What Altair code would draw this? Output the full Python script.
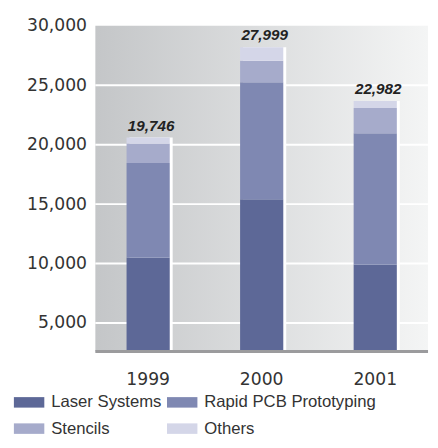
import altair as alt
import pandas as pd

years = ["1999", "2000", "2001"]
series = ["Laser Systems", "Rapid PCB Prototyping", "Stencils", "Others"]
laser = [10500, 15400, 9900]
rapid = [7950, 9850, 11050]
stencils = [1650, 1800, 2130]
others = [500, 1150, 600]
totals = [19746, 27999, 22982]
grid_values = [5000, 10000, 15000, 20000, 25000]
y_ticks = [5000, 10000, 15000, 20000, 25000, 30000]
colors = ["#5d6897", "#7f88b2", "#a6abcb", "#d4d6e8"]

rows = []
for i, y in enumerate(years):
    for j, (s, vals) in enumerate(zip(series, [laser, rapid, stencils, others])):
        rows.append({"year": y, "series": s, "value": vals[i], "idx": j})
df = pd.DataFrame(rows)

tops = pd.DataFrame({
    "year": years,
    "top": [laser[i] + rapid[i] + stencils[i] + others[i] for i in range(3)],
    "label": totals,
})
grid_df = pd.DataFrame({"v": grid_values})

yscale = alt.Scale(domain=[2600, 30000], nice=False, zero=False)
xscale = alt.Scale(paddingInner=0.61, paddingOuter=0.27, align=0.5)

y_axis = alt.Axis(title=None, values=y_ticks, format=",d", ticks=False, domain=False,
                  grid=False, labelPadding=9, labelFont="DejaVu Sans",
                  labelFontSize=17.5, labelColor="#333333")

x_enc = alt.X("year:N", scale=xscale, sort=years,
              axis=alt.Axis(title=None, labelAngle=0, ticks=False, domain=False,
                            labelPadding=20, labelFont="DejaVu Sans", labelFontSize=17.5,
                            labelColor="#333333", grid=False))

bg = alt.Chart(pd.DataFrame({"a": [0]})).mark_rect(
    color=alt.Gradient(gradient="linear",
                       stops=[alt.GradientStop(color="#c4c6c8", offset=0),
                              alt.GradientStop(color="#f4f5f5", offset=1)],
                       x1=0, x2=1, y1=0, y2=0)
).encode(x=alt.value(0), x2=alt.value("width"), y=alt.value(0), y2=alt.value("height"))

grid = alt.Chart(grid_df).mark_rule(color="white", strokeWidth=2).encode(
    y=alt.Y("v:Q", scale=yscale, axis=y_axis)
)

shadow = alt.Chart(tops).mark_bar(color="white", size=44, xOffset=3, clip=True).encode(
    x=x_enc,
    y=alt.Y("top:Q", scale=yscale, axis=y_axis),
    y2=alt.datum(0),
)

bars = alt.Chart(df).mark_bar(size=44, clip=True).encode(
    x=x_enc,
    y=alt.Y("value:Q", scale=yscale, stack="zero", axis=y_axis),
    color=alt.Color("series:N", scale=alt.Scale(domain=series, range=colors),
                    sort=series,
                    legend=alt.Legend(title=None, orient="none", legendX=-83, legendY=368,
                                      direction="horizontal",
                                      columns=2, columnPadding=5, rowPadding=3,
                                      symbolType="M-1,-0.345h2v0.69h-2z", symbolSize=961,
                                      symbolStrokeWidth=0, symbolOpacity=1,
                                      labelOffset=7, labelFont="Liberation Sans",
                                      labelFontSize=17, labelColor="#333333",
                                      labelLimit=300)),
    order=alt.Order("idx:Q", sort="ascending"),
)

labels = alt.Chart(tops).mark_text(
    font="Liberation Sans", fontSize=15.5, fontWeight="bold", fontStyle="italic",
    color="#222222", baseline="alphabetic", dy=-7, dx=3
).encode(
    x=x_enc,
    y=alt.Y("top:Q", scale=yscale, axis=y_axis),
    text=alt.Text("label:Q", format=","),
)

baseline = alt.Chart(pd.DataFrame({"a": [0]})).mark_rule(color="#9b9b9d", strokeWidth=3).encode(
    x=alt.value(0), x2=alt.value("width"), y=alt.value("height")
)

chart = alt.layer(bg, grid, shadow, bars, labels, baseline).properties(
    width=339, height=332,
    autosize=alt.AutoSizeParams(type="none"),
    padding={"left": 89, "top": 14, "right": 2, "bottom": 86},
    background="white",
).configure_view(stroke=None)

chart.save("out.html", embed_options={"renderer": "svg", "actions": False})
